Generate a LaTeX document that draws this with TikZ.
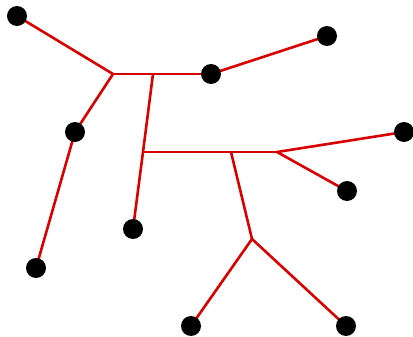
\documentclass[tikz,border=0pt]{standalone}
\usetikzlibrary{backgrounds}
\begin{document}
\begin{tikzpicture}[x=1pt,y=-1pt,
  dot/.style={circle,fill=black,inner sep=0pt,minimum size=20pt},
  edge/.style={draw=red!85!black,line width=2.6pt}]
\useasboundingbox (0,0) rectangle (413,337);
\node[dot] (a) at (17,16) {};
\node[dot] (b) at (327,36) {};
\node[dot] (c) at (211,74) {};
\node[dot] (d) at (75,132) {};
\node[dot] (e) at (404,132) {};
\node[dot] (f) at (347,191) {};
\node[dot] (g) at (133,229) {};
\node[dot] (h) at (36,268) {};
\node[dot] (i) at (191,326) {};
\node[dot] (j) at (346,326) {};
\coordinate (j1) at (113,74);
\coordinate (j2) at (153,74);
\coordinate (j3) at (143,152);
\coordinate (j4) at (231,152);
\coordinate (j5) at (277,152);
\coordinate (j6) at (252,239);
\begin{scope}[on background layer]
\draw[edge] (a.center) -- (j1);
\draw[edge] (j1) -- (c.center);
\draw[edge] (j1) -- (d.center);
\draw[edge] (d.center) -- (h.center);
\draw[edge] (c.center) -- (b.center);
\draw[edge] (j2) -- (j3);
\draw[edge] (j3) -- (g.center);
\draw[edge] (j3) -- (j5);
\draw[edge] (j5) -- (e.center);
\draw[edge] (j5) -- (f.center);
\draw[edge] (j4) -- (j6);
\draw[edge] (j6) -- (i.center);
\draw[edge] (j6) -- (j.center);
\end{scope}
\end{tikzpicture}
\end{document}
